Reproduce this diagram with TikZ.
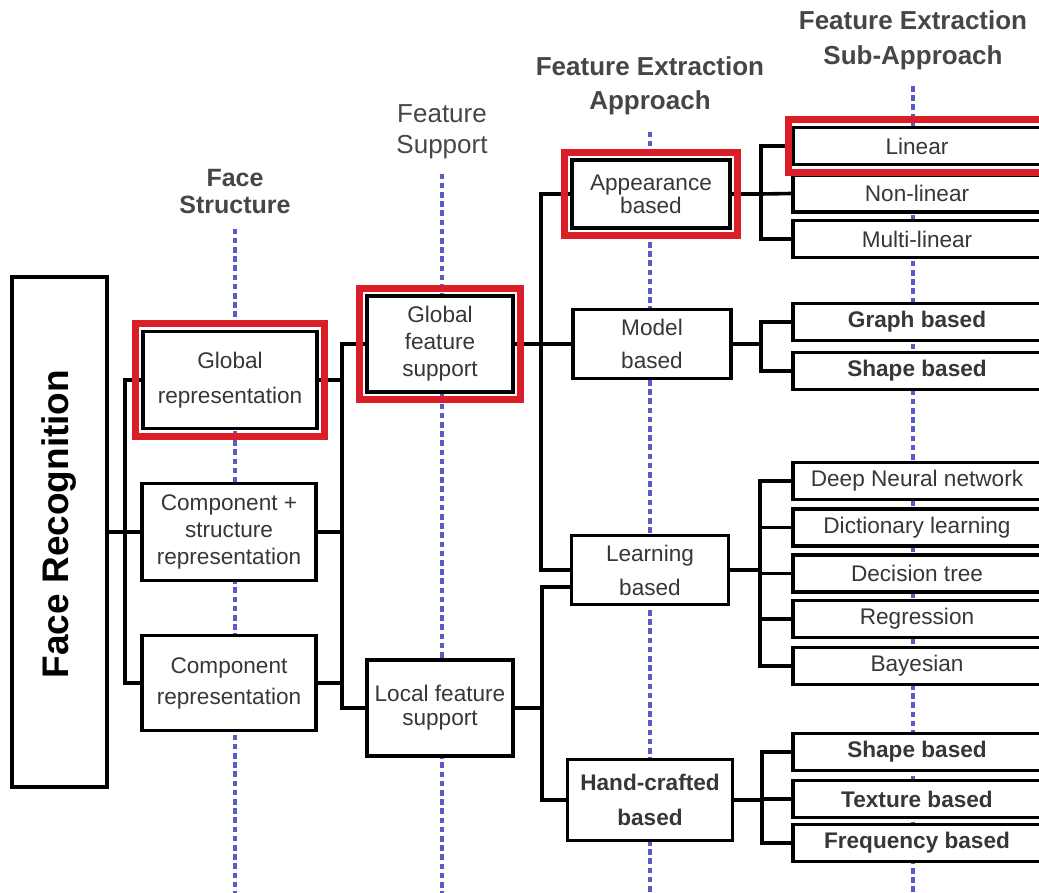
\documentclass[tikz,border=0pt]{standalone}
\usepackage{fontspec}
\setmainfont{Liberation Sans}
\usetikzlibrary{fit}
\definecolor{guideblue}{RGB}{90,90,200}
\definecolor{boxtext}{RGB}{55,55,55}
\definecolor{headtext}{RGB}{70,70,70}
\definecolor{markred}{RGB}{220,30,40}
\tikzset{
	box/.style={draw, line width=1.8pt, fill=white, text=boxtext, align=center, inner sep=0pt},
	sz/.style 2 args={minimum width=#1*0.5pt, minimum height=#2*0.5pt},
	fnt/.style={font=\fontsize{11.3}{#1}\selectfont},
	bfnt/.style={font=\fontsize{11.3}{#1}\selectfont\bfseries},
	subbox/.style={box, sz={248}{37}, fnt=13},
	head/.style={text=headtext, align=center, inner sep=0pt},
	guide/.style={guideblue, line width=1.6pt, dash pattern=on 2.8pt off 1.8pt},
	link/.style={line width=1.8pt},
	redmark/.style={draw=markred, line width=3.5pt, inner sep=3pt}
}

\begin{document}
\begin{tikzpicture}[x=0.5pt,y=-0.5pt]
	\useasboundingbox (0,0) rectangle (1039,893);
	\clip (0,0) rectangle (1039,893);
	\coordinate (bot) at (0,893);

	% column headers
	\node[head, font=\fontsize{12.5}{13.5}\selectfont\bfseries] (hfs) at (235,192) {Face\\Structure};
	\node[head, font=\fontsize{13}{15.5}\selectfont] (hsup) at (442,132) {Feature\\Support};
	\node[head, font=\fontsize{13}{17}\selectfont\bfseries] (happ) at (650,86) {Feature Extraction\\Approach};
	\node[head, font=\fontsize{13}{17.5}\selectfont\bfseries] (hsub) at (913,40) {Feature Extraction\\Sub-Approach};

	\draw[guide] ([yshift=-7pt]hfs.south) -- (hfs.south |- bot);
	\draw[guide] ([yshift=-7pt]hsup.south) -- (hsup.south |- bot);
	\draw[guide] ([yshift=-8pt]happ.south) -- (happ.south |- bot);
	\draw[guide] ([yshift=-8pt]hsub.south) -- (hsub.south |- bot);

	% root
	\node[box, sz={95}{510}] (fr) at (59.5,532) {};
	\node[rotate=90, font=\fontsize{18.5}{20}\selectfont\bfseries] (frtext) at ([yshift=4pt]fr.center) {Face Recognition};

	% face structure
	\node[box, sz={174}{97}, fnt=17.5] (gr) at (230,380) {Global\\representation};
	\node[box, sz={174}{97}, fnt=13.5] (cs) at (229,532) {Component +\\structure\\representation};
	\node[box, sz={174}{95}, fnt=15.5] (cr) at (229,683) {Component\\representation};

	% feature support
	\node[box, sz={146}{96}, fnt=13.5] (gfs) at (440,344) {Global\\feature\\support};
	\node[box, sz={146}{96}, fnt=12] (lfs) at (440,708) {Local feature\\support};

	% approach
	\node[box, sz={158}{68}, fnt=11.5] (app) at (651,194) {Appearance\\based};
	\node[box, sz={158}{69}, fnt=16.5] (mb) at (652,344) {Model\\based};
	\node[box, sz={157}{69}, fnt=17] (lb) at (650,570) {Learning\\based};
	\node[box, sz={165}{81}, bfnt=17.5] (hc) at (650,800) {Hand-crafted\\based};

	% sub-approach
	\node[subbox] (lin) at (917,146) {Linear};
	\node[subbox] (nl) at (917,193.5) {Non-linear};
	\node[subbox] (ml) at (917,239) {Multi-linear};
	\node[subbox, bfnt=13] (gb) at (917,322) {Graph based};
	\node[subbox, bfnt=13] (sb) at (917,371) {Shape based};
	\node[subbox] (dnn) at (917,481) {Deep Neural network};
	\node[subbox] (dl) at (917,527.5) {Dictionary learning};
	\node[subbox] (dt) at (917,573.5) {Decision tree};
	\node[subbox] (reg) at (917,619) {Regression};
	\node[subbox] (bay) at (917,666) {Bayesian};
	\node[subbox, bfnt=13] (shb) at (917,752) {Shape based};
	\node[subbox, bfnt=13] (tb) at (917,799) {Texture based};
	\node[subbox, bfnt=13] (fb) at (917,843) {Frequency based};

	% junctions
	\coordinate (j1) at (125,532);
	\coordinate (j2) at (342,532);
	\coordinate (j3) at (541,344);
	\coordinate (j4) at (542,708);
	\coordinate (j5) at (761,194);
	\coordinate (j6) at (761,344);
	\coordinate (j7) at (760,570);
	\coordinate (j8) at (762,800);

	\draw[link] (fr.east) -- (j1);
	\draw[link] (gr.west) -| (j1) |- (cr.west);
	\draw[link] (cs.west) -- (j1);

	\draw[link] (gr.east) -| (j2);
	\draw[link] (cs.east) -- (j2);
	\draw[link] (cr.east) -| (j2);
	\draw[link] (gfs.west) -| (j2) |- (lfs.west);

	\draw[link] (gfs.east) -- (j3);
	\draw[link] (app.west) -| (j3) |- (lb.west);
	\draw[link] (mb.west) -- (j3);

	\draw[link] (lfs.east) -- (j4);
	\draw[link] ([yshift=-8.5pt]lb.west) -| (j4) |- (hc.west);

	\draw[link] (app.east) -- (j5);
	\draw[link] (lin.west) -| (j5) |- (ml.west);
	\draw[link] (nl.west) -- (j5);

	\draw[link] (mb.east) -- (j6);
	\draw[link] (gb.west) -| (j6) |- (sb.west);

	\draw[link] (lb.east) -- (j7);
	\draw[link] (dnn.west) -| (j7) |- (bay.west);
	\draw[link] (dl.west) -| (j7);
	\draw[link] (dt.west) -| (j7);
	\draw[link] (reg.west) -| (j7);

	\draw[link] (hc.east) -- (j8);
	\draw[link] (shb.west) -| (j8) |- (fb.west);
	\draw[link] (tb.west) -| (j8);

	% highlighted path
	\node[redmark, fit=(gr)] (grmark) {};
	\node[redmark, fit=(gfs)] (gfsmark) {};
	\node[redmark, fit=(app)] (appmark) {};
	\node[redmark, fit=(lin), inner xsep=1.5pt] (linmark) {};
\end{tikzpicture}
\end{document}
